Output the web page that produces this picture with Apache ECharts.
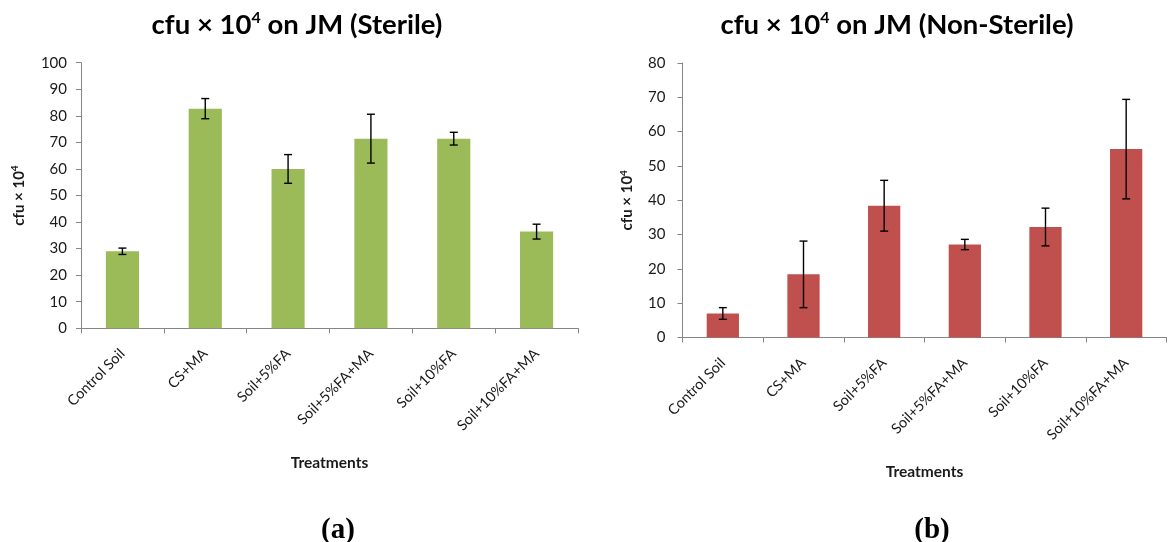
<!DOCTYPE html>
<html>
<head>
<meta charset="utf-8">
<script src="https://cdn.jsdelivr.net/npm/echarts@6/dist/echarts.min.js"></script>
<style>
  html, body { margin: 0; padding: 0; background: #fff; }
  #chart { width: 1170px; height: 542px; }
</style>
</head>
<body>
<div id="chart"></div>
<script>
// Treatments shared by both panels
const treatments = ['Control Soil', 'CS+MA', 'Soil+5%FA', 'Soil+5%FA+MA', 'Soil+10%FA', 'Soil+10%FA+MA'];

// (a) Sterile: mean cfu × 10^4 and standard error
const sterileMeans = [29.0, 82.7, 60.0, 71.4, 71.4, 36.4];
const sterileErrors = [1.2, 3.8, 5.4, 9.2, 2.4, 2.8];

// (b) Non-sterile: mean cfu × 10^4 and standard error
const nonSterileMeans = [7.0, 18.4, 38.4, 27.1, 32.2, 54.9];
const nonSterileErrors = [1.7, 9.7, 7.4, 1.5, 5.5, 14.5];

// Axis ranges and tick labels
const sterileTicks = [0, 10, 20, 30, 40, 50, 60, 70, 80, 90, 100];
const nonSterileTicks = [0, 10, 20, 30, 40, 50, 60, 70, 80];

const FONT = 'Lato';
const AXIS_GREY = '#868686';
const TEXT = '#1a1a1a';

const titleRich = {
  t: { fontFamily: FONT, fontWeight: 'bold', fontSize: 27.5, color: '#000', lineHeight: 30 },
  s: { fontFamily: FONT, fontWeight: 'bold', fontSize: 16, color: '#000', verticalAlign: 'top', lineHeight: 30 }
};
const nameRich = {
  n: { fontFamily: FONT, fontWeight: 'bold', fontSize: 15, color: TEXT, lineHeight: 18 },
  s: { fontFamily: FONT, fontWeight: 'bold', fontSize: 10, color: TEXT, verticalAlign: 'top', lineHeight: 18 }
};

function xAxisFor(gridIndex, nameGap) {
  return {
    type: 'category',
    gridIndex: gridIndex,
    data: treatments,
    name: 'Treatments',
    nameLocation: 'middle',
    nameGap: nameGap,
    nameTextStyle: { fontFamily: FONT, fontWeight: 'bold', fontSize: 15.5, color: TEXT },
    axisLine: { lineStyle: { color: AXIS_GREY, width: 1 } },
    axisTick: { show: true, length: 5, lineStyle: { color: AXIS_GREY } },
    axisLabel: {
      interval: 0, rotate: 45, margin: 23,
      fontFamily: FONT, fontSize: 14.5, color: TEXT
    },
    splitLine: { show: false }
  };
}

function yAxisFor(gridIndex, ticks, nameGap, labelMargin) {
  return {
    type: 'value',
    gridIndex: gridIndex,
    min: ticks[0],
    max: ticks[ticks.length - 1],
    interval: ticks[1] - ticks[0],
    name: '{n|cfu × 10}{s|4}',
    nameLocation: 'middle',
    nameRotate: 90,
    nameGap: nameGap,
    nameTextStyle: { rich: nameRich },
    axisLine: { show: true, lineStyle: { color: AXIS_GREY, width: 1 } },
    axisTick: { show: true, length: 5, lineStyle: { color: AXIS_GREY } },
    axisLabel: { margin: labelMargin, fontFamily: FONT, fontSize: 15, color: TEXT },
    splitLine: { show: false }
  };
}

// Error bars: vertical whisker with caps at mean ± error
function errorBarSeries(axisIndex, means, errors) {
  return {
    type: 'custom',
    xAxisIndex: axisIndex,
    yAxisIndex: axisIndex,
    z: 5,
    silent: true,
    data: means.map((m, i) => [i, m, errors[i]]),
    renderItem: function (params, api) {
      const i = api.value(0), m = api.value(1), e = api.value(2);
      const hi = api.coord([i, m + e]);
      const lo = api.coord([i, m - e]);
      const cap = 4;
      const style = { stroke: '#000', lineWidth: 1.4 };
      return {
        type: 'group',
        children: [
          { type: 'line', shape: { x1: hi[0], y1: hi[1], x2: lo[0], y2: lo[1] }, style: style },
          { type: 'line', shape: { x1: hi[0] - cap, y1: hi[1], x2: hi[0] + cap, y2: hi[1] }, style: style },
          { type: 'line', shape: { x1: lo[0] - cap, y1: lo[1], x2: lo[0] + cap, y2: lo[1] }, style: style }
        ]
      };
    }
  };
}

const chart = echarts.init(document.getElementById('chart'), null, { renderer: 'canvas' });
chart.setOption({
  animation: false,
  backgroundColor: '#fff',
  title: [
    { text: '{t|cfu × 10}{s|4}{t| on JM (Sterile)}', left: 292, top: 5, textAlign: 'center',
      textStyle: { rich: titleRich } },
    { text: '{t|cfu × 10}{s|4}{t| on JM (Non-Sterile)}', left: 892, top: 5, textAlign: 'center',
      textStyle: { rich: titleRich } },
    { text: '(a)', left: 333, top: 511, textAlign: 'center',
      textStyle: { fontFamily: 'Liberation Serif', fontWeight: 'bold', fontSize: 29, color: '#000' } },
    { text: '(b)', left: 927, top: 511, textAlign: 'center',
      textStyle: { fontFamily: 'Liberation Serif', fontWeight: 'bold', fontSize: 29, color: '#000' } }
  ],
  grid: [
    { left: 81, top: 62.7, width: 497, height: 265.6, containLabel: false },
    { left: 682.5, top: 63, width: 484, height: 274.5, containLabel: false }
  ],
  xAxis: [xAxisFor(0, 127), xAxisFor(1, 126)],
  yAxis: [yAxisFor(0, sterileTicks, 53, 14), yAxisFor(1, nonSterileTicks, 46, 17)],
  series: [
    {
      type: 'bar', xAxisIndex: 0, yAxisIndex: 0,
      data: sterileMeans, barWidth: '40%',
      itemStyle: { color: '#9BBB59' }
    },
    errorBarSeries(0, sterileMeans, sterileErrors),
    {
      type: 'bar', xAxisIndex: 1, yAxisIndex: 1,
      data: nonSterileMeans, barWidth: '40%',
      itemStyle: { color: '#C0504D' }
    },
    errorBarSeries(1, nonSterileMeans, nonSterileErrors)
  ]
});
</script>
</body>
</html>
